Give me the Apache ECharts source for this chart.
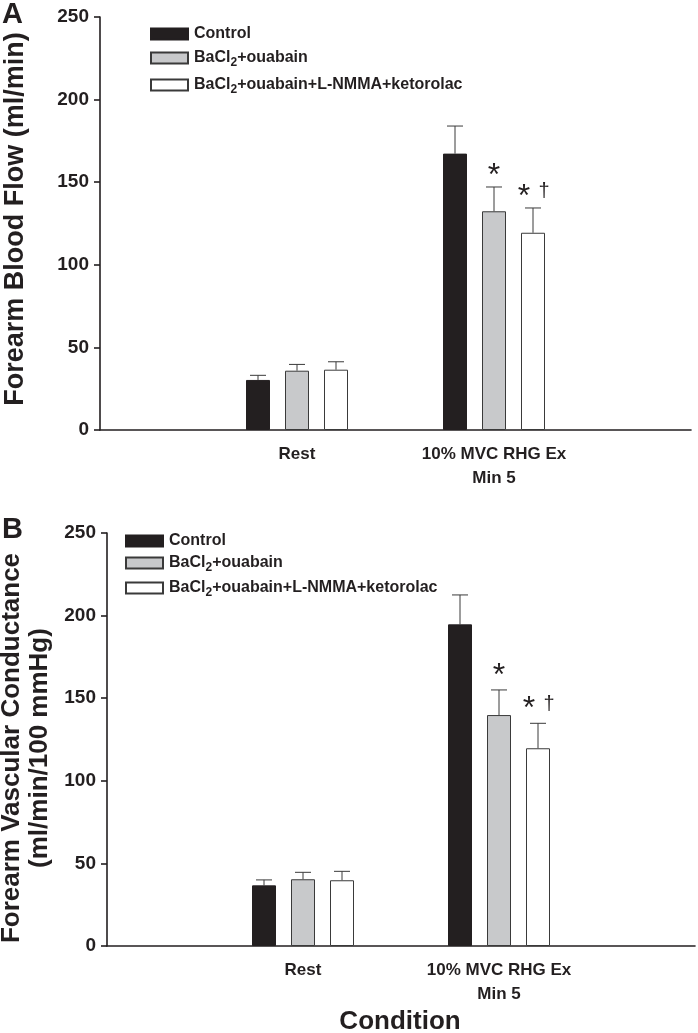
<!DOCTYPE html>
<html>
<head>
<meta charset="utf-8">
<script src="https://cdn.jsdelivr.net/npm/echarts@6/dist/echarts.min.js"></script>
<style>html,body{margin:0;padding:0;background:#fff;}#c{width:698px;height:1033px;}</style>
</head>
<body>
<div id="c"></div>
<script>
// ---- data ----
const categories = ['', 'Rest', '10% MVC RHG Ex\nMin 5', ''];
const seriesNames = ['Control', 'BaCl2+ouabain', 'BaCl2+ouabain+L-NMMA+ketorolac'];
const yTicks = [0, 50, 100, 150, 200, 250];

// Panel A: forearm blood flow (ml/min), mean and SEM per condition [Rest, Ex]
const flowControl = [30.3, 167.3];
const flowControlSem = [2.8, 16.7];
const flowBaOu = [35.9, 132.4];
const flowBaOuSem = [3.8, 14.7];
const flowAll = [36.5, 119.4];
const flowAllSem = [4.8, 15.0];
const flowMarksBaOu = ['', '*'];
const flowMarksAll = ['', '*†'];

// Panel B: forearm vascular conductance (ml/min/100 mmHg)
const fvcControl = [36.7, 194.7];
const fvcControlSem = [3.3, 17.8];
const fvcBaOu = [40.4, 139.8];
const fvcBaOuSem = [4.2, 15.2];
const fvcAll = [39.8, 119.7];
const fvcAllSem = [5.4, 15.1];
const fvcMarksBaOu = ['', '*'];
const fvcMarksAll = ['', '*†'];

// ---- styling ----
const FONT = 'Liberation Sans, Arial, sans-serif';
const ink = '#231f20';
const barStyles = [
  { color: '#231f20', borderColor: '#231f20', borderWidth: 1 },
  { color: '#c8c9cb', borderColor: '#3a3a3a', borderWidth: 1 },
  { color: '#ffffff', borderColor: '#3a3a3a', borderWidth: 1 }
];
const BAR_W = 24, BAR_STEP = 39;

function pad(arr) { return ['-'].concat(arr, ['-']); }

function barSeries(gi, vals) {
  return vals.map((v, i) => ({
    name: seriesNames[i], type: 'bar', xAxisIndex: gi, yAxisIndex: gi,
    data: pad(v), barWidth: BAR_W, barGap: '62.5%',
    itemStyle: barStyles[i], emphasis: { disabled: true }, animation: false
  }));
}

function errSeries(gi, means, sems, marks, dy) {
  const data = [];
  means.forEach((m, s) => m.forEach((v, c) => data.push([c + 1, s, v + sems[s][c], v, c])));
  return {
    type: 'custom', xAxisIndex: gi, yAxisIndex: gi, silent: true, animation: false,
    encode: { x: 0, y: 2 },
    data: data,
    renderItem: function (params, api) {
      const cat = api.value(0), s = api.value(1), top = api.value(2), base = api.value(3), c = api.value(4);
      const pt = api.coord([cat, top]);
      const pb = api.coord([cat, base]);
      const x = pt[0] + (s - 1) * BAR_STEP;
      const children = [
        { type: 'line', shape: { x1: x, y1: pb[1], x2: x, y2: pt[1] }, style: { stroke: '#3a3a3a', lineWidth: 1 } },
        { type: 'line', shape: { x1: x - 8, y1: pt[1], x2: x + 8, y2: pt[1] }, style: { stroke: '#3a3a3a', lineWidth: 1 } }
      ];
      const mk = (marks[s] || [])[c] || '';
      if (mk.indexOf('*') >= 0) {
        const ax = mk.indexOf('†') >= 0 ? x - 9 : x;
        children.push({ type: 'text', x: ax, y: pt[1] - dy, style: { text: '*', fontSize: 32, fontFamily: FONT, fill: ink, align: 'center', verticalAlign: 'middle' } });
      }
      if (mk.indexOf('†') >= 0) {
        children.push({ type: 'text', x: x + 11, y: pt[1] - dy - 5, style: { text: '†', fontSize: 20, fontFamily: FONT, fill: ink, align: 'center', verticalAlign: 'middle' } });
      }
      return { type: 'group', children: children };
    }
  };
}

function legendFmt(name) {
  const parts = name.split('Cl2');
  return parts.map((p, i) => '{b|' + p + (i < parts.length - 1 ? 'Cl' : '') + '}').join('{sub|2}');
}
function legend(gi, left, top, gap) {
  return {
    orient: 'vertical', left: left, top: top, itemWidth: 37, itemHeight: 11, itemGap: gap,
    selectedMode: false, icon: 'rect', data: seriesNames,
    formatter: legendFmt,
    textStyle: {
      fontFamily: FONT, fontWeight: 'bold', fontSize: 16, color: ink, padding: [0, 0, 0, 1],
      rich: {
        b: { fontFamily: FONT, fontWeight: 'bold', fontSize: 16, color: ink, lineHeight: 16, verticalAlign: 'top' },
        sub: { fontFamily: FONT, fontWeight: 'bold', fontSize: 12, color: ink, lineHeight: 12, verticalAlign: 'top', padding: [7, 0, 0, 0] }
      }
    }
  };
}

function xAxis(gi) {
  return {
    type: 'category', gridIndex: gi, data: categories, boundaryGap: false,
    axisLine: { lineStyle: { color: ink, width: 1.6 } },
    axisTick: { show: false },
    axisLabel: { interval: 0, fontFamily: FONT, fontWeight: 'bold', fontSize: 17, color: ink, lineHeight: 24, margin: 12 },
    splitLine: { show: false }
  };
}
function yAxis(gi) {
  return {
    type: 'value', gridIndex: gi, min: yTicks[0], max: yTicks[yTicks.length - 1], interval: yTicks[1] - yTicks[0],
    axisLine: { show: true, lineStyle: { color: ink, width: 1.6 } },
    axisTick: { show: true, length: 6, lineStyle: { color: ink, width: 1.6 } },
    axisLabel: { fontFamily: FONT, fontWeight: 'bold', fontSize: 19, color: ink, margin: 11 },
    splitLine: { show: false }
  };
}

const chart = echarts.init(document.getElementById('c'), null, { renderer: 'canvas' });
chart.setOption({
  backgroundColor: '#ffffff',
  animation: false,
  grid: [
    { left: 100, right: 7, top: 17, bottom: 603 },
    { left: 107, right: 0, top: 533, bottom: 87 }
  ],
  xAxis: [xAxis(0), xAxis(1)],
  yAxis: [yAxis(0), yAxis(1)],
  legend: [legend(0, 145, 21, 8), legend(1, 120, 528, 6)],
  series: [].concat(
    barSeries(0, [flowControl, flowBaOu, flowAll]),
    [errSeries(0, [flowControl, flowBaOu, flowAll], [flowControlSem, flowBaOuSem, flowAllSem], [[], flowMarksBaOu, flowMarksAll], 11)],
    barSeries(1, [fvcControl, fvcBaOu, fvcAll]),
    [errSeries(1, [fvcControl, fvcBaOu, fvcAll], [fvcControlSem, fvcBaOuSem, fvcAllSem], [[], fvcMarksBaOu, fvcMarksAll], 14)]
  ),
  graphic: [
    { type: 'text', left: 2, top: 0, style: { text: 'A', fontFamily: FONT, fontWeight: 'bold', fontSize: 29, fill: ink } },
    { type: 'text', left: 2, top: 515, style: { text: 'B', fontFamily: FONT, fontWeight: 'bold', fontSize: 29, fill: ink } },
    { type: 'text', x: 16, y: 219, rotation: Math.PI / 2, style: { text: 'Forearm Blood Flow (ml/min)', fontFamily: FONT, fontWeight: 'bold', fontSize: 27, fill: ink, align: 'center', verticalAlign: 'middle' } },
    { type: 'text', x: 26, y: 748, rotation: Math.PI / 2, style: { text: 'Forearm Vascular Conductance\n(ml/min/100 mmHg)', fontFamily: FONT, fontWeight: 'bold', fontSize: 26, lineHeight: 28, fill: ink, align: 'center', verticalAlign: 'middle' } },
    { type: 'text', x: 400, y: 1022, style: { text: 'Condition', fontFamily: FONT, fontWeight: 'bold', fontSize: 26, fill: ink, align: 'center', verticalAlign: 'middle' } }
  ]
});
</script>
</body>
</html>
